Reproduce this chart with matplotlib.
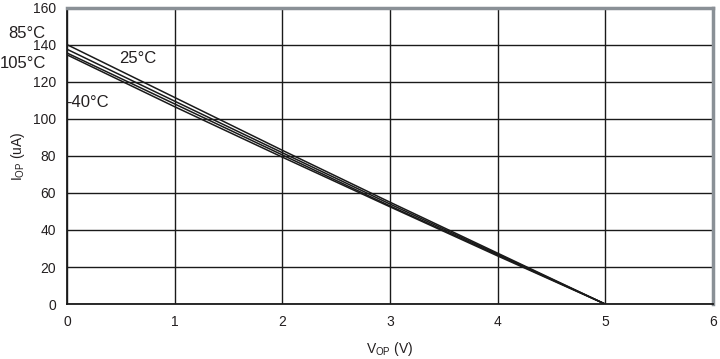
import numpy as np
import matplotlib.pyplot as plt

plt.rcParams['font.family'] = ['Liberation Sans', 'DejaVu Sans']

v_op = [0, 1, 2, 3, 4, 5]
i_85 = [140, 111.5, 83, 55, 27.5, 0]
i_25 = [137.5, 109.5, 81.7, 54, 27, 0]
i_105 = [135.5, 108, 80.5, 53, 26.5, 0]
i_m40 = [134.5, 106.5, 79.3, 52.5, 26, 0]

txt = '#231f20'

fig = plt.figure(figsize=(7.2, 3.59), dpi=100)
ax = fig.add_axes([0.093, 0.153, 0.897, 0.826])

for y in [i_85, i_25, i_105, i_m40]:
    ax.plot(v_op, y, color='#1a1a1a', linewidth=1.1, solid_capstyle='butt')

ax.set_xlim(0, 6)
ax.set_ylim(0, 160)
ax.set_xticks(range(0, 7))
ax.set_yticks(range(0, 161, 20))
ax.grid(True, color='#1a1a1a', linewidth=1.0)
ax.tick_params(length=0, labelsize=10, colors=txt, pad=8)

for s in ['top', 'right']:
    ax.spines[s].set_color('#8a9096')
    ax.spines[s].set_linewidth(2.5)
for s in ['left', 'bottom']:
    ax.spines[s].set_color('#1a1a1a')
    ax.spines[s].set_linewidth(1.3)

ax.set_xlabel('V$_{\\mathregular{OP}}$ (V)', fontsize=10, color=txt, labelpad=8)
ax.set_ylabel('I$_{\\mathregular{OP}}$ (uA)', fontsize=10, color=txt, labelpad=4)

ax.text(-0.55, 146, '85°C', fontsize=12, color=txt, va='center', ha='left', clip_on=False)
ax.text(-0.62, 130, '105°C', fontsize=12, color=txt, va='center', ha='left', clip_on=False)
ax.text(0.48, 132.5, '25°C', fontsize=12, color=txt, va='center', ha='left')
ax.text(-0.01, 108.5, '-40°C', fontsize=12, color=txt, va='center', ha='left', clip_on=False)

fig.savefig('out.png', dpi=100)
